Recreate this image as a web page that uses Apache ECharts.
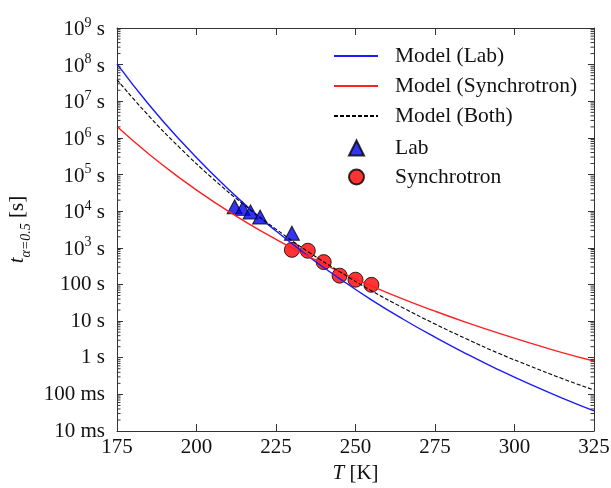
<!DOCTYPE html>
<html><head><meta charset="utf-8">
<script src="https://cdn.jsdelivr.net/npm/echarts@6/dist/echarts.min.js"></script>
<style>html,body{margin:0;padding:0;background:#fff}#c{width:611px;height:488px}</style>
</head><body><div id="c"></div>
<script>
// Temperatures (K) at which model curves were read
const temps = [175,185,195,205,215,225,235,245,255,265,275,285,295,305,315,325];
// log10 of t (s)
const modelLab  = [8.02,6.91,5.92,5.02,4.20,3.46,2.78,2.16,1.58,1.05,0.56,0.10,-0.33,-0.73,-1.10,-1.45];
const modelSync = [6.31,5.56,4.89,4.28,3.73,3.23,2.77,2.35,1.96,1.60,1.27,0.96,0.67,0.40,0.14,-0.09];
const modelBoth = [7.59,6.60,5.71,4.90,4.17,3.51,2.90,2.35,1.83,1.36,0.92,0.51,0.12,-0.23,-0.57,-0.88];
const labT = [212,214.5,217,220,230];
const labLog = [4.12,4.07,3.98,3.84,3.40];
const syncT = [230,235,240,245,250,255];
const syncLog = [2.945,2.92,2.61,2.24,2.13,1.99];
// y tick labels from 10 ms (1e-2) to 1e9 s
const yTickLabels = ['10 ms','100 ms','1 s','10 s','100 s',
  '{b|10}{sup|3}{b| s}','{b|10}{sup|4}{b| s}','{b|10}{sup|5}{b| s}','{b|10}{sup|6}{b| s}',
  '{b|10}{sup|7}{b| s}','{b|10}{sup|8}{b| s}','{b|10}{sup|9}{b| s}'];
const decades = [-2,-1,0,1,2,3,4,5,6,7,8];
const minorMult = [2,3,4,5,6,7,8,9];

const minorTicks = [];
decades.forEach(d => minorMult.forEach(m => minorTicks.push([175, d + Math.log10(m)])));

const pair = (xs, ys) => xs.map((x,i)=>[x, ys[i]]);
const font = '"Liberation Serif", "Times New Roman", serif';
const axisColor = '#333';
const txt = '#111';
const fs = 21;

const chart = echarts.init(document.getElementById('c'));
const legendText = pad => ({fontFamily:font,fontSize:21.5,color:txt,lineHeight:20,padding:[0,0,0,pad]});
chart.setOption({
  animation:false,
  backgroundColor:'#fff',
  textStyle:{fontFamily:font},
  grid:{left:117,right:17,top:28,bottom:57,containLabel:false,outerBoundsMode:'none'},
  legend:[{
    orient:'vertical', left:328, top:40, itemWidth:44, itemHeight:14, itemGap:8,
    textStyle:legendText(12),
    data:[{name:'Model (Lab)',itemStyle:{opacity:0}},
          {name:'Model (Synchrotron)',itemStyle:{opacity:0}},
          {name:'Model (Both)',itemStyle:{opacity:0}}]
  },{
    orient:'vertical', left:343, top:132, itemWidth:15, itemHeight:15, itemGap:7,
    textStyle:legendText(26),
    data:['Lab','Synchrotron']
  }],
  xAxis:[{
    type:'value', min:175, max:325, interval:25,
    name:'{i|T} [K]', nameLocation:'middle', nameGap:32,
    nameTextStyle:{fontFamily:font,fontSize:fs,color:txt,rich:{i:{fontStyle:'italic',fontFamily:font,fontSize:fs,color:txt}}},
    axisLine:{onZero:false,lineStyle:{color:axisColor}},
    axisTick:{inside:true,length:7,lineStyle:{color:axisColor}},
    axisLabel:{fontFamily:font,fontSize:fs,color:txt,margin:6},
    splitLine:{show:false}
  },{
    type:'value', min:175, max:325, interval:25, position:'top',
    axisLine:{onZero:false,lineStyle:{color:axisColor}},
    axisTick:{inside:true,length:7,lineStyle:{color:axisColor}},
    axisLabel:{show:false}, splitLine:{show:false}
  }],
  yAxis:[{
    type:'value', min:-2, max:9, interval:1,
    name:'{i|t}{sub|α=0.5} [s]', nameLocation:'middle', nameGap:80, nameRotate:90,
    nameTextStyle:{fontFamily:font,fontSize:fs,color:txt,
      rich:{i:{fontStyle:'italic',fontFamily:font,fontSize:fs,color:txt},
            sub:{fontFamily:font,fontStyle:'italic',fontSize:14,color:txt,verticalAlign:'bottom',lineHeight:30}}},
    axisLine:{onZero:false,lineStyle:{color:axisColor}},
    axisTick:{inside:true,length:6,lineStyle:{color:axisColor}},
    axisLabel:{fontFamily:font,fontSize:fs,color:txt,margin:12,
      formatter:v=>yTickLabels[Math.round(v)+2],
      rich:{b:{fontFamily:font,fontSize:fs,color:txt,lineHeight:24,verticalAlign:'bottom'},
            sup:{fontFamily:font,fontSize:14,color:txt,lineHeight:24,verticalAlign:'top'}}},
    splitLine:{show:false}
  },{
    type:'value', min:-2, max:9, interval:1, position:'right',
    axisLine:{onZero:false,lineStyle:{color:axisColor}},
    axisTick:{inside:true,length:6,lineStyle:{color:axisColor}},
    axisLabel:{show:false}, splitLine:{show:false}
  }],
  series:[
    {name:'Lab', type:'scatter', data:pair(labT,labLog), symbol:'triangle', symbolSize:[15,14],
     itemStyle:{color:'#0000ee',borderColor:'#000',borderWidth:1}, z:2},
    {name:'Synchrotron', type:'scatter', data:pair(syncT,syncLog), symbol:'circle', symbolSize:15,
     itemStyle:{color:'#ff0000',borderColor:'#000',borderWidth:1}, z:2},
    {name:'Model (Lab)', type:'line', data:pair(temps,modelLab), smooth:true, symbol:'none',
     lineStyle:{color:'#1a1aff',width:1.4}, itemStyle:{color:'#1a1aff'}, z:3},
    {name:'Model (Synchrotron)', type:'line', data:pair(temps,modelSync), smooth:true, symbol:'none',
     lineStyle:{color:'#ff2020',width:1.4}, itemStyle:{color:'#ff2020'}, z:3},
    {name:'Model (Both)', type:'line', data:pair(temps,modelBoth), smooth:true, symbol:'none',
     lineStyle:{color:'#000',width:1.1,type:[4,2]}, itemStyle:{color:'#000'}, z:4},
    {type:'custom', silent:true, data:minorTicks, z:10, clip:false, encode:{x:0,y:1},
     renderItem:(params, api)=>{
       const y = api.coord([175, api.value(1)])[1];
       const cs = params.coordSys;
       return {type:'group', children:[
         {type:'line', shape:{x1:cs.x, y1:y, x2:cs.x+3.5, y2:y}, style:{stroke:axisColor,lineWidth:1}},
         {type:'line', shape:{x1:cs.x+cs.width, y1:y, x2:cs.x+cs.width-3.5, y2:y}, style:{stroke:axisColor,lineWidth:1}}
       ]};
     }}
  ]
});
</script></body></html>
